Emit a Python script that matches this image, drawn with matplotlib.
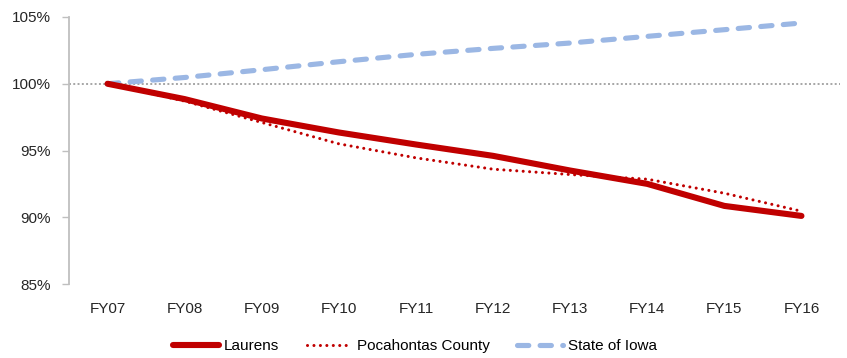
import numpy as np
import matplotlib.pyplot as plt

plt.rcParams['font.family'] = ['Liberation Sans', 'DejaVu Sans']

years = ['FY07', 'FY08', 'FY09', 'FY10', 'FY11', 'FY12', 'FY13', 'FY14', 'FY15', 'FY16']
laurens = [100.0, 98.85, 97.4, 96.35, 95.45, 94.6, 93.5, 92.5, 90.85, 90.1]
pocahontas = [100.0, 98.7, 97.1, 95.5, 94.45, 93.6, 93.2, 92.85, 91.8, 90.45]
iowa = [100.0, 100.47, 101.05, 101.65, 102.2, 102.65, 103.05, 103.55, 104.05, 104.55]

red = '#C00000'
blue = '#9BB7E4'
grey = '#BFBFBF'

fig = plt.figure(figsize=(8.47, 3.58), dpi=100)
ax = fig.add_axes([69 / 847, 1 - 284 / 358, 771 / 847, 267 / 358])

x = np.arange(len(years))

# reference line at 100%
ax.axhline(100, color='#A6A6A6', lw=1.4, ls=(0, (1, 1.2)), zorder=1)

ax.plot(x, iowa, color=blue, lw=3.7, ls=(0, (2.2, 2.2)),
        dash_capstyle='round', solid_capstyle='round', label='State of Iowa', zorder=2)
ax.plot(x, laurens, color=red, lw=4.4, solid_capstyle='round',
        label='Laurens', zorder=3)
ax.plot(x, pocahontas, color=red, lw=2.2, ls=(0, (0.01, 2.1)),
        dash_capstyle='round', label='Pocahontas County', zorder=4)

ax.set_xlim(-0.5, len(years) - 0.5)
ax.set_ylim(85, 105)
ax.set_xticks(x)
ax.set_xticklabels(years)
ax.set_yticks(np.arange(85, 106, 5))
ax.set_yticklabels([f'{v}%' for v in range(85, 106, 5)])

for side in ['top', 'right', 'bottom']:
    ax.spines[side].set_visible(False)
ax.spines['left'].set_color(grey)
ax.spines['left'].set_linewidth(1.3)

ax.tick_params(axis='y', colors=grey, length=5, width=1.0, pad=8, labelsize=11, labelcolor='#262626')
ax.tick_params(axis='x', length=0, pad=13, labelsize=11, labelcolor='#262626')

handles, labels = ax.get_legend_handles_labels()
order = [labels.index(n) for n in ['Laurens', 'Pocahontas County', 'State of Iowa']]
fig.legend([handles[i] for i in order], [labels[i] for i in order],
           loc='center', bbox_to_anchor=(0.49, 0.033), ncol=3, frameon=False,
           fontsize=11, handlelength=3.0, handletextpad=0.3, columnspacing=1.8)

fig.savefig('out.png', dpi=100)
